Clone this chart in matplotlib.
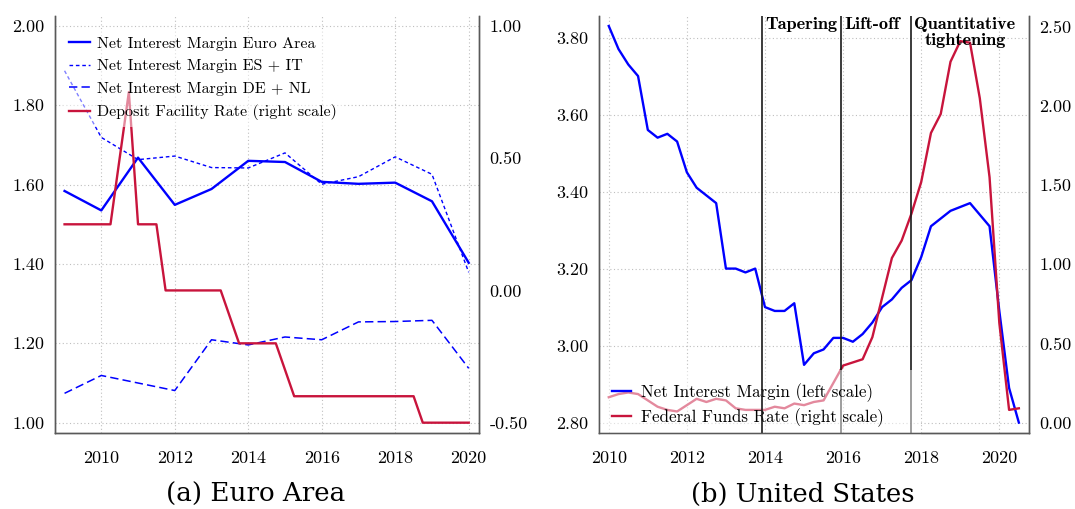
import matplotlib
matplotlib.use("Agg")
import matplotlib.pyplot as plt
import pandas as pd
from matplotlib.ticker import FuncFormatter

plt.rcParams["font.family"] = "cmr10"
plt.rcParams["mathtext.fontset"] = "cm"
plt.rcParams["axes.formatter.use_mathtext"] = True
plt.rcParams["lines.scale_dashes"] = False

# ---------------- Euro area (annual, per cent) ----------------
ea_years = [2009, 2010, 2011, 2012, 2013, 2014, 2015, 2016, 2017, 2018, 2019, 2020]
nim_euro_area = [1.584, 1.535, 1.668, 1.549, 1.589, 1.660, 1.657, 1.607, 1.602, 1.605, 1.558, 1.403]
nim_es_it = [1.887, 1.719, 1.663, 1.672, 1.643, 1.642, 1.680, 1.601, 1.620, 1.670, 1.626, 1.379]
nim_de_nl = [1.074, 1.119, 1.100, 1.081, 1.209, 1.196, 1.216, 1.209, 1.254, 1.255, 1.258, 1.137]

# ECB deposit facility rate at its turning points
dfr_dates = [2009.0, 2010.25, 2010.75, 2011.0, 2011.5, 2011.75, 2013.25,
             2013.75, 2014.75, 2015.25, 2018.5, 2018.75, 2020.0]
dfr_rate = [0.25, 0.25, 0.75, 0.25, 0.25, 0.00, 0.00,
            -0.20, -0.20, -0.40, -0.40, -0.50, -0.50]

# ---------------- United States (quarterly, per cent) ----------------
us_quarters = pd.period_range("2010Q1", "2020Q3", freq="Q")
us_dates = [q.year + (q.quarter - 1) / 4 for q in us_quarters]
us_nim = [3.83, 3.77, 3.73, 3.70,
          3.56, 3.54, 3.55, 3.53,
          3.45, 3.41, 3.39, 3.37,
          3.20, 3.20, 3.19, 3.20,
          3.10, 3.09, 3.09, 3.11,
          2.95, 2.98, 2.99, 3.02,
          3.02, 3.01, 3.03, 3.06,
          3.10, 3.12, 3.15, 3.17,
          3.23, 3.31, 3.33, 3.35,
          3.36, 3.37, 3.34, 3.31,
          3.09, 2.89, 2.80]
fed_funds = [0.16, 0.18, 0.19, 0.18,
             0.14, 0.10, 0.08, 0.07,
             0.11, 0.15, 0.13, 0.15,
             0.14, 0.09, 0.08, 0.08,
             0.08, 0.10, 0.09, 0.12,
             0.11, 0.13, 0.14, 0.25,
             0.36, 0.38, 0.40, 0.54,
             0.79, 1.04, 1.15, 1.32,
             1.52, 1.83, 1.95, 2.28,
             2.41, 2.40, 2.05, 1.55,
             0.63, 0.08, 0.09]

# Fed policy events
event_labels = ["Tapering", "Lift-off", "Quantitative\ntightening"]
event_dates = [2013.92, 2015.95, 2017.75]

year_ticks = [2010, 2012, 2014, 2016, 2018, 2020]
year_labels = ["2010", "2012", "2014", "2016", "2018", "2020"]
ea_left_ticks = [1.00, 1.20, 1.40, 1.60, 1.80, 2.00]
ea_right_ticks = [-0.50, 0.00, 0.50, 1.00]
us_left_ticks = [2.80, 3.00, 3.20, 3.40, 3.60, 3.80]
us_right_ticks = [0.00, 0.50, 1.00, 1.50, 2.00, 2.50]

BLUE = "#0000ff"
RED = "#c8143c"
W, H = 1075, 509

fig = plt.figure(figsize=(W / 100, H / 100), dpi=100)


def axes_px(left, right, top, bottom):
    return fig.add_axes([left / W, 1 - bottom / H, (right - left) / W, (bottom - top) / H])


two_dec = FuncFormatter(lambda v, p: f"{v:.2f}")


def style(ax, ax2, xlim, ylim, ylim2, lticks, rticks):
    for a in (ax, ax2):
        a.spines["top"].set_visible(False)
        for s in a.spines.values():
            s.set_color("0.35")
            s.set_linewidth(1.0)
            s.set_zorder(7)
        a.tick_params(length=0, labelsize=13)
    ax.tick_params(axis="y", pad=7.5)
    ax.tick_params(axis="x", pad=12.5)
    ax2.tick_params(axis="y", pad=7.5)
    ax.set_xlim(*xlim)
    ax.set_ylim(*ylim)
    ax2.set_ylim(*ylim2)
    ax.set_xticks(year_ticks)
    ax.set_xticklabels(year_labels)
    ax.set_yticks(lticks)
    ax2.set_yticks(rticks)
    ax.yaxis.set_major_formatter(two_dec)
    ax2.yaxis.set_major_formatter(two_dec)
    ax.grid(True, color="0.75", lw=0.8, ls=(0, (0.8, 1.8)))
    ax.set_axisbelow(True)


# ---------------- (a) Euro Area ----------------
axA = axes_px(55, 479, 16, 433)
axA2 = axA.twinx()
style(axA, axA2, (2008.74, 2020.28), (0.974, 2.025), (-0.539, 1.0375),
      ea_left_ticks, ea_right_ticks)

hA1, = axA.plot(ea_years, nim_euro_area, color=BLUE, lw=1.7,
                label="Net Interest Margin Euro Area")
hA2, = axA.plot(ea_years, nim_es_it, color=BLUE, lw=1.0, ls=(0, (2.6, 2.0)),
                label="Net Interest Margin ES + IT")
hA3, = axA.plot(ea_years, nim_de_nl, color=BLUE, lw=1.1, ls=(0, (6.0, 3.0)),
                label="Net Interest Margin DE + NL")
hA4, = axA2.plot(dfr_dates, dfr_rate, color=RED, lw=1.7,
                 label="Deposit Facility Rate (right scale)")

legA = axA2.legend(handles=[hA1, hA2, hA3, hA4], loc="upper left",
                   bbox_to_anchor=(7.5 / 424, 1 - 14.0 / 417),
                   borderaxespad=0, borderpad=0.4, handlelength=1.3,
                   handletextpad=0.45, labelspacing=0.53,
                   prop={"family": "cmr10", "size": 11.5},
                   frameon=True, fancybox=False, framealpha=0.5,
                   facecolor="white", edgecolor="none")

# ---------------- (b) United States ----------------
axB = axes_px(599, 1029, 16, 433)
axB2 = axB.twinx()
style(axB, axB2, (2009.75, 2020.76), (2.773, 3.856), (-0.066, 2.569),
      us_left_ticks, us_right_ticks)

hB1, = axB.plot(us_dates, us_nim, color=BLUE, lw=1.7,
                label="Net Interest Margin (left scale)")
hB2, = axB2.plot(us_dates, fed_funds, color=RED, lw=1.7,
                 label="Federal Funds Rate (right scale)")

for i, (label, date) in enumerate(zip(event_labels, event_dates)):
    axB2.axvline(date, color="0.1", lw=1.2, zorder=6 if i == 0 else 2)
    axB2.annotate(label, xy=(date, 1.0), xycoords=axB2.get_xaxis_transform(),
                  xytext=(2.2, -0.5), textcoords="offset points",
                  ha="left", va="top", multialignment="center",
                  fontfamily="cmb10", fontsize=13.2, linespacing=1.15)

legB = axB2.legend(handles=[hB1, hB2], loc="lower left", mode="expand",
                   bbox_to_anchor=(-0.5 / 430, -7.3 / 417, 322 / 430, 0.2),
                   borderaxespad=0, borderpad=0.8, handlelength=1.1,
                   handletextpad=0.6, labelspacing=0.35,
                   prop={"family": "cmr10", "size": 12.2},
                   frameon=True, fancybox=False, framealpha=0.5,
                   facecolor="white", edgecolor="none")

# ---------------- captions ----------------
fig.text(256 / W, 1 - 494 / H, "(a) Euro Area", ha="center", va="center",
         family="DejaVu Serif", size=18.8)
fig.text(803 / W, 1 - 494 / H, "(b) United States", ha="center", va="center",
         family="DejaVu Serif", size=18.5)

fig.savefig("out.png", dpi=100)
